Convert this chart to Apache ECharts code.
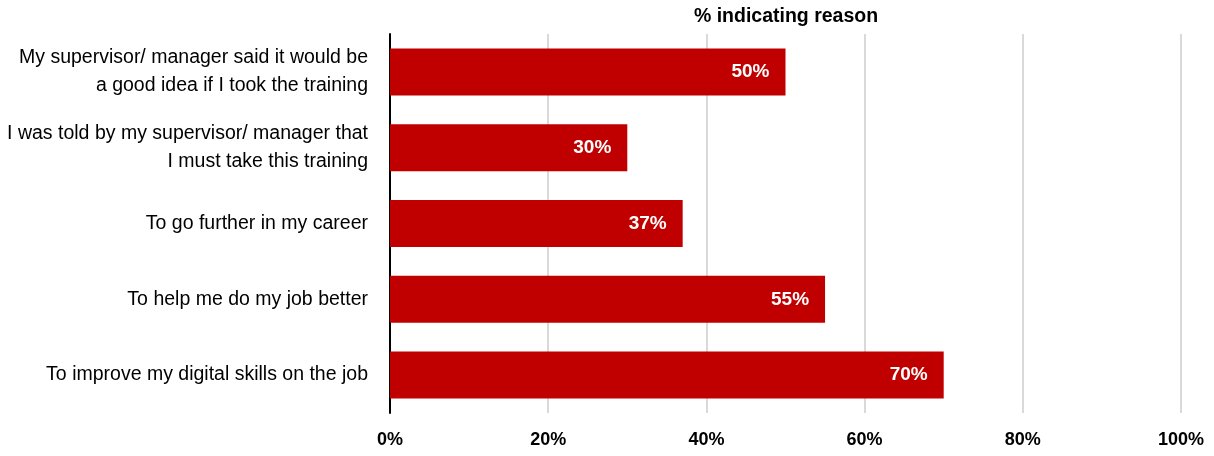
<!DOCTYPE html>
<html>
<head>
<meta charset="utf-8">
<script src="https://cdn.jsdelivr.net/npm/echarts@6/dist/echarts.min.js"></script>
<style>html,body{margin:0;padding:0;background:#fff}#c{width:1214px;height:456px}</style>
</head>
<body>
<div id="c"></div>
<script>
const categories = [
  "My supervisor/ manager said it would be\na good idea if I took the training",
  "I was told by my supervisor/ manager that\nI must take this training",
  "To go further in my career",
  "To help me do my job better",
  "To improve my digital skills on the job"
];
const values = [50, 30, 37, 55, 70];
const axisTitle = "% indicating reason";

const chart = echarts.init(document.getElementById('c'), null, {renderer: 'canvas'});
const font = "'Liberation Sans', Arial, sans-serif";
chart.setOption({
  animation: false,
  graphic: [{
    type: 'text', x: 786, y: 17,
    style: {text: axisTitle, align: 'center', verticalAlign: 'middle',
      font: "bold 19.5px 'Liberation Sans', Arial, sans-serif", fill: '#000'}
  }],
  grid: {left: 390, right: 33, top: 34, bottom: 43, containLabel: false, outerBoundsMode: 'none'},
  xAxis: {
    type: 'value', min: 0, max: 100, interval: 20,
    axisLine: {show: false}, axisTick: {show: false},
    splitLine: {lineStyle: {color: '#d9d9d9', width: 2}},
    axisLabel: {formatter: '{value}%', fontFamily: font, fontSize: 18, fontWeight: 'bold', color: '#000', margin: 18}
  },
  yAxis: {
    type: 'category', data: categories, inverse: true,
    axisLine: {show: true, lineStyle: {color: '#000', width: 2}},
    axisTick: {show: false},
    axisLabel: {fontFamily: font, fontSize: 19.5, color: '#000', margin: 22, lineHeight: 28, align: 'right'}
  },
  series: [{
    type: 'bar', data: values, barCategoryGap: '38%',
    itemStyle: {color: '#c00000'},
    label: {show: true, position: 'insideRight', distance: 16, formatter: '{c}%',
      fontFamily: font, fontSize: 19, fontWeight: 'bold', color: '#fff'}
  }]
});
</script>
</body>
</html>
